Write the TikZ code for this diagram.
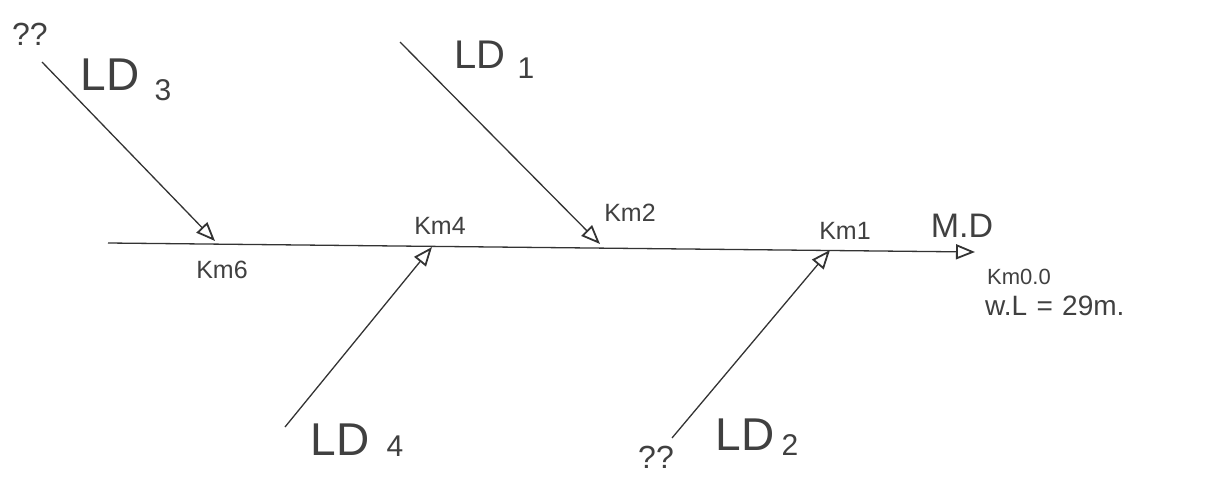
\documentclass[tikz,border=0pt]{standalone}
\usepackage{fontspec}
\setmainfont{Liberation Sans}
\usetikzlibrary{arrows.meta}
\begin{document}
\begin{tikzpicture}[x=1pt,y=-1pt,
  flow/.style={draw=black!80, line width=1.3pt, -{Triangle[open,length=19pt,width=15pt,line width=1.8pt]}},
  big/.style={text=black!75, font=\fontsize{46}{46}\selectfont, inner sep=0pt},
  sub/.style={text=black!75, font=\fontsize{30}{30}\selectfont, inner sep=0pt},
  km/.style={text=black!75, font=\fontsize{25}{25}\selectfont, inner sep=0pt},
  q/.style={text=black!75, font=\fontsize{32}{32}\selectfont, inner sep=0pt}]
\useasboundingbox (0,0) rectangle (1211,479);
% main line
\coordinate (ms) at (108,243);
\coordinate (me) at (975,252);
\coordinate (j6) at (215,241);
\coordinate (j4) at (432,247);
\coordinate (j2) at (600,244);
\coordinate (j1) at (830,250);
\coordinate (s3) at (42,62);
\coordinate (s1) at (400,42);
\coordinate (s4) at (285,427);
\coordinate (s2) at (672,438);
\draw[flow] (ms) -- (me);
\draw[flow] (s3) -- (j6);
\draw[flow] (s1) -- (j2);
\draw[flow] (s4) -- (j4);
\draw[flow] (s2) -- (j1);
% labels
\node[q] (qa) at (30,34) {??};
\node[big] (ld3) at (110,75) {LD};
\node[sub] (ld3n) at (163,90) {3};
\node[big, font=\fontsize{40}{40}\selectfont] (ld1) at (480,55) {LD};
\node[sub] (ld1n) at (526,68) {1};
\node[big] (ld4) at (340,440) {LD};
\node[sub] (ld4n) at (395,446) {4};
\node[q] (qb) at (656,457) {??};
\node[big] (ld2) at (745,435) {LD};
\node[sub] (ld2n) at (790,445) {2};
\node[km] (k6) at (222,270) {Km6};
\node[km] (k4) at (440,226) {Km4};
\node[km] (k2) at (630,213) {Km2};
\node[km] (k1) at (845,231) {Km1};
\node[big, font=\fontsize{34}{34}\selectfont] (md) at (962,226) {M.D};
\node[km, anchor=west, font=\fontsize{22}{22}\selectfont] (k0) at (987,277) {Km0.0};
\node[km, anchor=west, font=\fontsize{28}{28}\selectfont] (wl) at (985,306) {w.L\,\,=\,\,29m.};
\end{tikzpicture}
\end{document}
